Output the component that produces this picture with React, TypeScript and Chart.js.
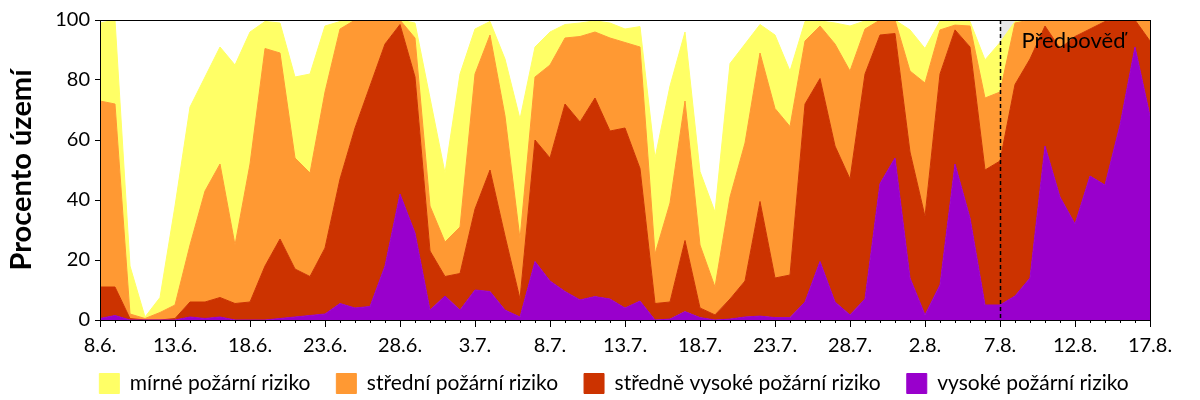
import React, { useEffect, useRef } from 'react';
import { Chart, registerables } from 'chart.js';

Chart.register(...registerables);

const FONT = 'Lato, "Open Sans", "DejaVu Sans", sans-serif';

const labels = [
  '8.6.', '9.6.', '10.6.', '11.6.', '12.6.', '13.6.', '14.6.', '15.6.', '16.6.', '17.6.',
  '18.6.', '19.6.', '20.6.', '21.6.', '22.6.', '23.6.', '24.6.', '25.6.', '26.6.', '27.6.',
  '28.6.', '29.6.', '30.6.', '1.7.', '2.7.', '3.7.', '4.7.', '5.7.', '6.7.', '7.7.',
  '8.7.', '9.7.', '10.7.', '11.7.', '12.7.', '13.7.', '14.7.', '15.7.', '16.7.', '17.7.',
  '18.7.', '19.7.', '20.7.', '21.7.', '22.7.', '23.7.', '24.7.', '25.7.', '26.7.', '27.7.',
  '28.7.', '29.7.', '30.7.', '31.7.', '1.8.', '2.8.', '3.8.', '4.8.', '5.8.', '6.8.',
  '7.8.', '8.8.', '9.8.', '10.8.', '11.8.', '12.8.', '13.8.', '14.8.', '15.8.', '16.8.',
  '17.8.',
];

const FORECAST_START = '7.8.';
const FORECAST_TEXT = 'Předpověď';
const Y_TITLE = 'Procento území';

// share of territory per risk level (%)
const vysoke = [
  0.5, 1.5, 0, 0, 0, 0, 1, 0.5, 1, 0,
  0, 0, 0.5, 1, 1.5, 2, 5.5, 4, 4.5, 18,
  42, 29, 3.3, 8, 3.3, 10, 9.5, 3.3, 1, 19.5,
  13, 9.5, 6.7, 7.8, 7, 4, 6.3, 0, 0.3, 2.8,
  0.8, 0, 0.3, 1, 1.3, 0.8, 0.8, 6, 19.5, 6,
  1.7, 7, 45.5, 54, 14, 1.7, 11.7, 52, 34, 5,
  5, 8, 14, 58, 41, 32, 48, 45, 65, 91,
  68,
];

const stredneVysoke = [
  10.5, 9.5, 0.5, 0, 0, 0.5, 5, 5.5, 6.5, 5.5,
  6, 18, 26.5, 16, 13, 22, 41.5, 60, 73.5, 74,
  56.5, 52, 19.7, 6.5, 12.2, 27, 40.5, 24.7, 6, 40.5,
  41, 62.5, 59.3, 66.2, 56, 60, 44.2, 5.5, 5.7, 23.7,
  3.2, 1.7, 6.7, 12, 38.2, 13.2, 14.2, 66, 61, 52,
  45.3, 75, 49.5, 41.5, 42, 32.8, 70.3, 44.7, 57, 45,
  48, 70.5, 73, 40, 49.5, 62.5, 49, 54.5, 35, 9,
  25,
];

const stredni = [
  62, 61, 1.5, 0.5, 2.5, 4.5, 19, 37, 44.5, 19.5,
  46, 72.5, 62, 37, 34.5, 52, 50, 36, 22, 8,
  1.5, 13, 15, 11.5, 15.5, 45, 45, 40, 20, 21,
  31, 22, 28.5, 22, 31, 28.5, 40.5, 16.5, 33, 46.5,
  21, 9.3, 34, 46, 49.5, 56.5, 49.5, 21, 17.5, 34,
  36, 15, 5, 4.5, 27, 44.5, 14.7, 1.6, 7, 24,
  23, 20.5, 13, 2, 9.5, 5.5, 3, 0.5, 0, 0,
  7,
];

const mirne = [
  26, 28, 16, 0.5, 5, 33, 46, 38, 39, 60,
  44, 9, 10, 27, 33, 22, 2.5, 0, 0, 0,
  0, 5, 36, 23, 51, 15, 4.5, 19, 40, 10,
  11, 4.5, 4.5, 3.7, 5, 4.5, 6.8, 32, 39, 23,
  24.5, 25, 44.5, 33, 9.5, 24.5, 18.5, 6.5, 1.7, 7,
  15, 2.7, 0, 0, 13.7, 11.5, 3, 1.4, 1.5, 12.7,
  16.5, 0.5, 0, 0, 0, 0, 0, 0, 0, 0,
  0,
];

const seriesNames = [
  'vysoké požární riziko',
  'středně vysoké požární riziko',
  'střední požární riziko',
  'mírné požární riziko',
];
const seriesColors = ['#9900CC', '#CC3300', '#FF9933', '#FFFF66'];

export default function App() {
  const ref = useRef<HTMLCanvasElement>(null);

  useEffect(() => {
    const canvas = ref.current;
    if (!canvas) return;
    const forecastIndex = labels.indexOf(FORECAST_START);

    const decorPlugin = {
      id: 'decor',
      beforeDatasetsDraw(chart: any) {
        const { ctx, chartArea, scales } = chart;
        const x0 = scales.x.getPixelForValue(forecastIndex);
        ctx.save();
        ctx.fillStyle = '#e8e8e8';
        ctx.fillRect(x0, chartArea.top, chartArea.right - x0, chartArea.bottom - chartArea.top);
        ctx.restore();
      },
      afterDatasetsDraw(chart: any) {
        const { ctx, chartArea, scales } = chart;
        const x0 = Math.round(scales.x.getPixelForValue(forecastIndex)) + 0.5;
        ctx.save();
        // forecast dashed line
        ctx.strokeStyle = '#000';
        ctx.lineWidth = 1.5;
        ctx.setLineDash([4, 3]);
        ctx.beginPath();
        ctx.moveTo(x0, chartArea.top);
        ctx.lineTo(x0, chartArea.bottom);
        ctx.stroke();
        ctx.setLineDash([]);
        // forecast label
        ctx.fillStyle = '#000';
        ctx.font = `22px ${FONT}`;
        ctx.textAlign = 'left';
        ctx.textBaseline = 'alphabetic';
        ctx.fillText(FORECAST_TEXT, x0 + 21, chartArea.top + 28);
        // plot frame
        ctx.lineWidth = 1;
        ctx.strokeRect(
          Math.round(chartArea.left) + 0.5,
          Math.round(chartArea.top) + 0.5,
          Math.round(chartArea.right - chartArea.left),
          Math.round(chartArea.bottom - chartArea.top)
        );
        ctx.restore();
      },
      afterDraw(chart: any) {
        const { ctx, chartArea, scales } = chart;
        ctx.save();
        ctx.strokeStyle = '#000';
        ctx.lineWidth = 1;
        ctx.beginPath();
        for (let i = 0; i < labels.length; i += 5) {
          const x = Math.round(scales.x.getPixelForValue(i)) + 0.5;
          ctx.moveTo(x, chartArea.bottom);
          ctx.lineTo(x, chartArea.bottom + 7);
        }
        ctx.stroke();
        ctx.restore();
      },
    };

    const values = [vysoke, stredneVysoke, stredni, mirne];
    const datasets = values.map((data, i) => ({
      label: seriesNames[i],
      data,
      backgroundColor: seriesColors[i],
      borderColor: seriesColors[i],
      borderWidth: 1,
      pointRadius: 0,
      pointHoverRadius: 0,
      tension: 0,
      fill: i === 0 ? 'origin' : '-1',
    }));

    const chart = new Chart(canvas, {
      type: 'line',
      data: { labels, datasets },
      options: {
        animation: false,
        responsive: false,
        devicePixelRatio: 1,
        layout: { padding: { left: 28, right: 0, top: 20, bottom: 0 } },
        interaction: { mode: 'index', intersect: false },
        plugins: {
          tooltip: { enabled: false },
          legend: {
            position: 'bottom',
            reverse: true,
            title: {
              display: true,
              text: '',
              font: { size: 1, lineHeight: 1 },
              padding: { top: -9, bottom: 0 },
            },
            labels: {
              boxWidth: 20,
              boxHeight: 20,
              padding: 26,
              color: '#000',
              font: { family: FONT, size: 21 },
            },
          },
        },
        scales: {
          x: {
            type: 'category',
            ticks: {
              autoSkip: false,
              maxRotation: 0,
              minRotation: 0,
              color: '#000',
              padding: 11,
              font: { family: FONT, size: 20 },
              callback: (_v: any, i: number) => (i % 5 === 0 ? labels[i] : ''),
            },
            grid: { drawOnChartArea: false, tickLength: 3, tickColor: '#000' },
            border: { display: true, color: '#000', width: 1 },
            afterFit: (s: any) => {
              s.height = 35;
            },
          },
          y: {
            stacked: true,
            min: 0,
            max: 100,
            ticks: {
              stepSize: 20,
              color: '#000',
              padding: 5,
              font: { family: FONT, size: 20 },
            },
            grid: { drawOnChartArea: false, tickLength: 5, tickColor: '#000' },
            border: { display: true, color: '#000', width: 1 },
            title: {
              display: true,
              text: Y_TITLE,
              color: '#000',
              font: { family: FONT, size: 29, weight: 'bold' },
              padding: { top: -23.4, bottom: 0 },
            },
            afterFit: (s: any) => {
              s.width = 72;
            },
          },
          yRight: {
            type: 'linear',
            position: 'right',
            display: true,
            grid: { display: false },
            ticks: { display: false },
            border: { display: false },
            afterFit: (s: any) => {
              s.width = 50;
            },
          },
        },
      },
      plugins: [decorPlugin],
    } as any);

    return () => chart.destroy();
  }, []);

  return (
    <div
      style={{
        position: 'fixed',
        left: 0,
        top: 0,
        width: 1200,
        height: 400,
        overflow: 'hidden',
        background: '#fff',
      }}
    >
      <canvas ref={ref} width={1200} height={404} style={{ display: 'block', width: 1200, height: 404 }} />
    </div>
  );
}
